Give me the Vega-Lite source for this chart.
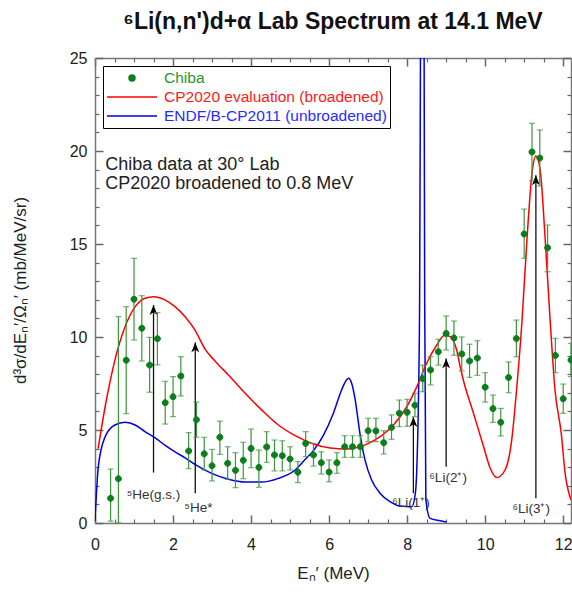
{
 "$schema": "https://vega.github.io/schema/vega-lite/v6.json",
 "autosize": {"type": "none"},
 "padding": {"left": 95, "top": 58, "right": 1, "bottom": 70},
 "width": 476,
 "height": 465,
 "background": "white",
 "config": {"view": {"stroke": null}, "font": "Liberation Sans"},
 "title": {"text": "⁶Li(n,n')d+α Lab Spectrum at 14.1 MeV", "font": "Liberation Sans", "fontSize": 23, "fontWeight": "bold", "color": "#111", "anchor": "middle", "baseline": "alphabetic", "offset": -2},
 "datasets": {
  "pts": [
   {"e":0.4,"y":1.33,"lo":0.1,"hi":2.9},
   {"e":0.6,"y":2.38,"lo":0,"hi":11.1},
   {"e":0.8,"y":8.75,"lo":5.88,"hi":11.63},
   {"e":1.0,"y":12.03,"lo":9.84,"hi":14.23},
   {"e":1.2,"y":10.47,"lo":8.71,"hi":12.22},
   {"e":1.4,"y":8.49,"lo":7.03,"hi":9.98},
   {"e":1.6,"y":9.91,"lo":8.5,"hi":11.31},
   {"e":1.8,"y":6.47,"lo":5.32,"hi":7.62},
   {"e":2.0,"y":6.79,"lo":5.72,"hi":7.87},
   {"e":2.2,"y":7.9,"lo":6.83,"hi":8.94},
   {"e":2.4,"y":3.87,"lo":2.92,"hi":4.86},
   {"e":2.6,"y":5.55,"lo":4.61,"hi":6.5},
   {"e":2.8,"y":3.72,"lo":2.85,"hi":4.61},
   {"e":3.0,"y":3.08,"lo":2.26,"hi":3.96},
   {"e":3.2,"y":4.61,"lo":3.69,"hi":5.48},
   {"e":3.4,"y":3.21,"lo":2.35,"hi":4.1},
   {"e":3.6,"y":2.83,"lo":1.9,"hi":3.78},
   {"e":3.8,"y":3.37,"lo":2.38,"hi":4.34},
   {"e":4.0,"y":4.01,"lo":2.97,"hi":5.05},
   {"e":4.2,"y":2.99,"lo":1.92,"hi":3.92},
   {"e":4.4,"y":4.09,"lo":3.26,"hi":4.91},
   {"e":4.6,"y":3.66,"lo":2.8,"hi":4.46},
   {"e":4.8,"y":3.62,"lo":2.8,"hi":4.42},
   {"e":5.0,"y":3.44,"lo":2.85,"hi":4.1},
   {"e":5.2,"y":2.73,"lo":2.17,"hi":3.3},
   {"e":5.4,"y":4.28,"lo":3.57,"hi":4.91},
   {"e":5.6,"y":3.66,"lo":3.06,"hi":4.28},
   {"e":5.8,"y":3.24,"lo":2.63,"hi":3.83},
   {"e":6.0,"y":2.74,"lo":2.22,"hi":3.39},
   {"e":6.2,"y":3.24,"lo":2.67,"hi":3.78},
   {"e":6.4,"y":4.1,"lo":3.53,"hi":4.69},
   {"e":6.6,"y":4.1,"lo":3.53,"hi":4.69},
   {"e":6.8,"y":4.1,"lo":3.53,"hi":4.69},
   {"e":7.0,"y":4.96,"lo":4.37,"hi":5.63},
   {"e":7.2,"y":4.95,"lo":4.37,"hi":5.63},
   {"e":7.4,"y":4.32,"lo":3.71,"hi":4.96},
   {"e":7.6,"y":5.14,"lo":4.5,"hi":5.81},
   {"e":7.8,"y":5.9,"lo":5.18,"hi":6.61},
   {"e":8.0,"y":5.95,"lo":5.2,"hi":6.65},
   {"e":8.2,"y":6.33,"lo":5.72,"hi":6.97},
   {"e":8.4,"y":7.76,"lo":7.06,"hi":8.49},
   {"e":8.6,"y":8.23,"lo":7.42,"hi":8.94},
   {"e":8.8,"y":9.21,"lo":8.49,"hi":9.88},
   {"e":9.0,"y":10.19,"lo":9.3,"hi":11.13},
   {"e":9.2,"y":9.95,"lo":9.02,"hi":10.86},
   {"e":9.4,"y":9.09,"lo":8.17,"hi":10.0},
   {"e":9.6,"y":8.71,"lo":7.83,"hi":9.61},
   {"e":9.8,"y":8.87,"lo":7.94,"hi":9.8},
   {"e":10.0,"y":7.3,"lo":6.5,"hi":8.08},
   {"e":10.2,"y":6.15,"lo":5.41,"hi":6.88},
   {"e":10.4,"y":5.41,"lo":4.68,"hi":6.16},
   {"e":10.6,"y":7.82,"lo":7.0,"hi":8.66},
   {"e":10.8,"y":9.92,"lo":8.94,"hi":10.91},
   {"e":11.0,"y":15.54,"lo":14.23,"hi":16.88},
   {"e":11.2,"y":19.95,"lo":18.4,"hi":21.49},
   {"e":11.4,"y":19.62,"lo":18.12,"hi":21.13},
   {"e":11.6,"y":14.8,"lo":13.51,"hi":16.02},
   {"e":11.8,"y":9.01,"lo":8.08,"hi":9.93},
   {"e":12.0,"y":6.68,"lo":5.9,"hi":7.47},
   {"e":12.2,"y":8.76,"lo":7.87,"hi":9.66}
  ],
  "red": [
   {"e":0.08,"v":4.0},{"e":0.26,"v":6.25},{"e":0.51,"v":8.76},{"e":0.77,"v":10.55},{"e":1.03,"v":11.63},
   {"e":1.28,"v":12.08},{"e":1.5,"v":12.17},{"e":1.79,"v":12.0},{"e":2.05,"v":11.63},{"e":2.31,"v":11.09},
   {"e":2.56,"v":10.38},{"e":2.82,"v":9.35},{"e":3.08,"v":8.7},{"e":3.42,"v":7.96},{"e":3.85,"v":6.97},
   {"e":4.27,"v":6.08},{"e":4.7,"v":5.27},{"e":5.13,"v":4.7},{"e":5.6,"v":4.25},{"e":6.03,"v":4.03},
   {"e":6.45,"v":3.98},{"e":6.88,"v":4.16},{"e":7.31,"v":4.64},{"e":7.65,"v":5.27},{"e":7.99,"v":6.25},
   {"e":8.25,"v":7.33},{"e":8.5,"v":8.59},{"e":8.76,"v":9.57},{"e":8.97,"v":10.11},{"e":9.1,"v":10.02},
   {"e":9.27,"v":9.3},{"e":9.36,"v":8.4},{"e":9.44,"v":7.69},{"e":9.7,"v":5.9},{"e":9.96,"v":4.1},
   {"e":10.13,"v":2.94},{"e":10.3,"v":2.44},{"e":10.51,"v":2.85},{"e":10.68,"v":4.46},{"e":10.79,"v":6.8},
   {"e":10.94,"v":10.74},{"e":11.07,"v":15.2},{"e":11.2,"v":18.8},{"e":11.3,"v":19.75},{"e":11.41,"v":18.98},
   {"e":11.54,"v":15.2},{"e":11.67,"v":10.74},{"e":11.79,"v":7.15},{"e":11.95,"v":4.82},{"e":12.05,"v":2.67},
   {"e":12.2,"v":1.24}
  ],
  "blue": [
   {"e":0.0,"v":0.1},{"e":0.085,"v":3.03},{"e":0.26,"v":4.64},{"e":0.51,"v":5.27},{"e":0.77,"v":5.41},
   {"e":1.03,"v":5.27},{"e":1.28,"v":4.91},{"e":1.54,"v":4.58},{"e":1.79,"v":4.19},{"e":2.05,"v":3.83},
   {"e":2.31,"v":3.5},{"e":2.56,"v":3.15},{"e":2.99,"v":2.67},{"e":3.42,"v":2.35},{"e":3.85,"v":2.2},
   {"e":4.27,"v":2.2},{"e":4.7,"v":2.4},{"e":5.13,"v":2.85},{"e":5.38,"v":3.4},{"e":5.6,"v":3.9},
   {"e":5.85,"v":4.7},{"e":6.11,"v":5.9},{"e":6.32,"v":7.15},{"e":6.45,"v":7.7},{"e":6.5,"v":7.78},
   {"e":6.58,"v":7.5},{"e":6.67,"v":6.61},{"e":6.79,"v":4.82},{"e":6.92,"v":3.39},{"e":7.09,"v":2.31},
   {"e":7.31,"v":1.59},{"e":7.56,"v":1.15},{"e":7.82,"v":0.91},{"e":8.12,"v":0.88},{"e":8.21,"v":1.59},
   {"e":8.25,"v":3.03},{"e":8.29,"v":6.61},{"e":8.32,"v":12.0},{"e":8.35,"v":30},{"e":8.4,"v":45},
   {"e":8.43,"v":30},{"e":8.45,"v":12},{"e":8.48,"v":1.24},{"e":8.59,"v":0.25},{"e":8.85,"v":0.12},
   {"e":9.0,"v":0.05}
  ],
  "arrows": [
   {"e":1.5,"y0":2.71,"y1":11.72},
   {"e":2.57,"y0":1.6,"y1":9.71},
   {"e":8.16,"y0":1.6,"y1":5.7},
   {"e":9.0,"y0":3.03,"y1":8.85},
   {"e":11.3,"y0":1.33,"y1":18.7}
  ],
  "states": [
   {"e":1.5,"y":1.5,"t":"⁵He(g.s.)"},
   {"e":2.65,"y":0.8,"t":"⁵He*"},
   {"e":8.1,"y":1.07,"t":"⁶Li(1⁺)"},
   {"e":9.05,"y":2.4,"t":"⁶Li(2⁺)"},
   {"e":11.18,"y":0.75,"t":"⁶Li(3⁺)"}
  ],
  "notes": [
   {"e":0.26,"y":19.25,"t":"Chiba data at 30° Lab"},
   {"e":0.26,"y":18.25,"t":"CP2020 broadened to 0.8 MeV"}
  ]
 },
 "resolve": {"axis": {"x": "independent", "y": "independent"}},
 "layer": [
  {
   "data": {"name": "blue"},
   "mark": {"type": "line", "color": "#0000e0", "strokeWidth": 1.5, "clip": true, "interpolate": "monotone"},
   "encoding": {
    "x": {"field": "e", "type": "quantitative", "scale": {"domain": [0, 12.2], "nice": false, "zero": false},
     "axis": {"orient": "bottom", "values": [0,2,4,6,8,10,12], "grid": false, "tickSize": -8, "tickWidth": 1.5, "tickColor": "#666", "domainColor": "#777", "domainWidth": 1.5, "labelFont": "Liberation Sans", "labelFontSize": 16, "labelColor": "#222", "labelPadding": 21, "labelFlush": false, "title": "Eₙ′ (MeV)", "titleFont": "Liberation Sans", "titleFontSize": 17, "titleFontWeight": "normal", "titleColor": "#222", "titleX": 238, "titleY": 50, "titleBaseline": "middle", "titleAlign": "center"}},
    "y": {"field": "v", "type": "quantitative", "scale": {"domain": [0, 25], "nice": false},
     "axis": {"orient": "left", "values": [0,5,10,15,20,25], "grid": false, "tickSize": -8, "tickWidth": 1.5, "tickColor": "#666", "domainColor": "#777", "domainWidth": 1.5, "labelFont": "Liberation Sans", "labelFontSize": 16, "labelColor": "#222", "labelPadding": 16, "labelFlush": false, "title": "d³σ/dEₙ′/Ωₙ′ (mb/MeV/sr)", "titleFont": "Liberation Sans", "titleFontSize": 17, "titleFontWeight": "normal", "titleColor": "#222", "titleX": -75, "titleY": 232, "titleAngle": -90, "titleBaseline": "middle", "titleAlign": "center"}}
   }
  },
  {
   "data": {"name": "red"},
   "mark": {"type": "line", "color": "#ff0000", "strokeWidth": 1.5, "clip": true, "interpolate": "monotone"},
   "encoding": {
    "x": {"field": "e", "type": "quantitative", "scale": {"domain": [0, 12.2], "nice": false, "zero": false},
     "axis": {"orient": "bottom", "values": [0.5,1,1.5,2.5,3,3.5,4.5,5,5.5,6.5,7,7.5,8.5,9,9.5,10.5,11,11.5], "grid": false, "tickSize": -4, "tickWidth": 1.2, "tickColor": "#666", "domain": false, "labels": false, "title": null}},
    "y": {"field": "v", "type": "quantitative", "scale": {"domain": [0, 25], "nice": false},
     "axis": {"orient": "left", "values": [1,2,3,4,6,7,8,9,11,12,13,14,16,17,18,19,21,22,23,24], "grid": false, "tickSize": -4, "tickWidth": 1.2, "tickColor": "#666", "domain": false, "labels": false, "title": null}}
   }
  },
  {
   "data": {"name": "arrows"},
   "mark": {"type": "rule", "color": "#111", "strokeWidth": 1.3},
   "encoding": {
    "x": {"field": "e", "type": "quantitative", "scale": {"domain": [0, 12.2], "nice": false, "zero": false},
     "axis": {"orient": "top", "values": [0,2,4,6,8,10,12], "grid": false, "tickSize": -8, "tickWidth": 1.5, "tickColor": "#666", "domainColor": "#777", "domainWidth": 1.5, "labels": false, "title": null}},
    "y": {"field": "y0", "type": "quantitative", "scale": {"domain": [0, 25], "nice": false},
     "axis": {"orient": "right", "values": [0,5,10,15,20,25], "grid": false, "tickSize": -8, "tickWidth": 1.5, "tickColor": "#666", "domainColor": "#777", "domainWidth": 1.5, "labels": false, "title": null}},
    "y2": {"field": "y1"}
   }
  },
  {
   "data": {"name": "arrows"},
   "mark": {"type": "point", "shape": "M0,0L0.67,1.67L0,1.2L-0.67,1.67Z", "size": 144, "filled": true, "color": "#000", "opacity": 1},
   "encoding": {
    "x": {"field": "e", "type": "quantitative", "scale": {"domain": [0, 12.2], "nice": false, "zero": false},
     "axis": {"orient": "top", "values": [0.5,1,1.5,2.5,3,3.5,4.5,5,5.5,6.5,7,7.5,8.5,9,9.5,10.5,11,11.5], "grid": false, "tickSize": -4, "tickWidth": 1.2, "tickColor": "#666", "domain": false, "labels": false, "title": null}},
    "y": {"field": "y1", "type": "quantitative", "scale": {"domain": [0, 25], "nice": false},
     "axis": {"orient": "right", "values": [1,2,3,4,6,7,8,9,11,12,13,14,16,17,18,19,21,22,23,24], "grid": false, "tickSize": -4, "tickWidth": 1.2, "tickColor": "#666", "domain": false, "labels": false, "title": null}}
   }
  },
  {
   "data": {"name": "pts"},
   "mark": {"type": "errorbar", "ticks": {"size": 6}, "color": "#3a963a", "thickness": 1.2},
   "encoding": {
    "x": {"field": "e", "type": "quantitative", "axis": null},
    "y": {"field": "lo", "type": "quantitative", "axis": null},
    "y2": {"field": "hi"}
   }
  },
  {
   "data": {"name": "pts"},
   "mark": {"type": "point", "filled": true, "size": 2500, "strokeWidth": 1, "opacity": 1},
   "encoding": {
    "x": {"field": "e", "type": "quantitative", "axis": null},
    "y": {"field": "y", "type": "quantitative", "axis": null},
    "fill": {"datum": "Chiba", "type": "nominal",
     "scale": {"domain": ["Chiba", "CP2020 evaluation (broadened)", "ENDF/B-CP2011 (unbroadened)"], "range": ["#0b7d1c", "#ff0000", "#0000e0"]},
     "legend": {"orient": "none", "legendX": 8, "legendY": 8, "title": null, "symbolSize": 2500, "clipHeight": 18, "rowPadding": 1, "padding": 3, "strokeColor": "#000", "fillColor": "white", "labelFont": "Liberation Sans", "labelFontSize": 15.5, "labelLimit": 400, "labelOffset": 6, "symbolStrokeWidth": 1.5,
      "labelColor": {"expr": "datum.label == 'Chiba' ? '#1f9a1f' : (datum.label == 'CP2020 evaluation (broadened)' ? '#ff1a1a' : '#2a2aff')"}}},
    "stroke": {"datum": "Chiba", "type": "nominal",
     "scale": {"domain": ["Chiba", "CP2020 evaluation (broadened)", "ENDF/B-CP2011 (unbroadened)"], "range": ["#0b7d1c", "#ff0000", "#0000e0"]},
     "legend": {"orient": "none", "legendX": 8, "legendY": 8, "title": null, "symbolSize": 2500, "clipHeight": 18, "rowPadding": 1, "padding": 3, "strokeColor": "#000", "fillColor": "white", "labelFont": "Liberation Sans", "labelFontSize": 15.5, "labelLimit": 400, "labelOffset": 6, "symbolStrokeWidth": 1.5}},
    "shape": {"datum": "Chiba", "type": "nominal",
     "scale": {"domain": ["Chiba", "CP2020 evaluation (broadened)", "ENDF/B-CP2011 (unbroadened)"], "range": ["M-0.12,0A0.12,0.12 0 1,0 0.12,0A0.12,0.12 0 1,0 -0.12,0Z", "M-1,0H1", "M-1,0H1"]},
     "legend": {"orient": "none", "legendX": 8, "legendY": 8, "title": null, "symbolSize": 2500, "clipHeight": 18, "rowPadding": 1, "padding": 3, "strokeColor": "#000", "fillColor": "white", "labelFont": "Liberation Sans", "labelFontSize": 15.5, "labelLimit": 400, "labelOffset": 6, "symbolStrokeWidth": 1.5}}
   }
  },
  {
   "data": {"name": "states"},
   "mark": {"type": "text", "font": "Liberation Sans", "fontSize": 13.5, "color": "#333", "align": "center", "baseline": "middle"},
   "encoding": {
    "x": {"field": "e", "type": "quantitative", "axis": null},
    "y": {"field": "y", "type": "quantitative", "axis": null},
    "text": {"field": "t"}
   }
  },
  {
   "data": {"name": "notes"},
   "mark": {"type": "text", "font": "Liberation Sans", "fontSize": 18, "color": "#222", "align": "left", "baseline": "middle"},
   "encoding": {
    "x": {"field": "e", "type": "quantitative", "axis": null},
    "y": {"field": "y", "type": "quantitative", "axis": null},
    "text": {"field": "t"}
   }
  }
 ]
}
